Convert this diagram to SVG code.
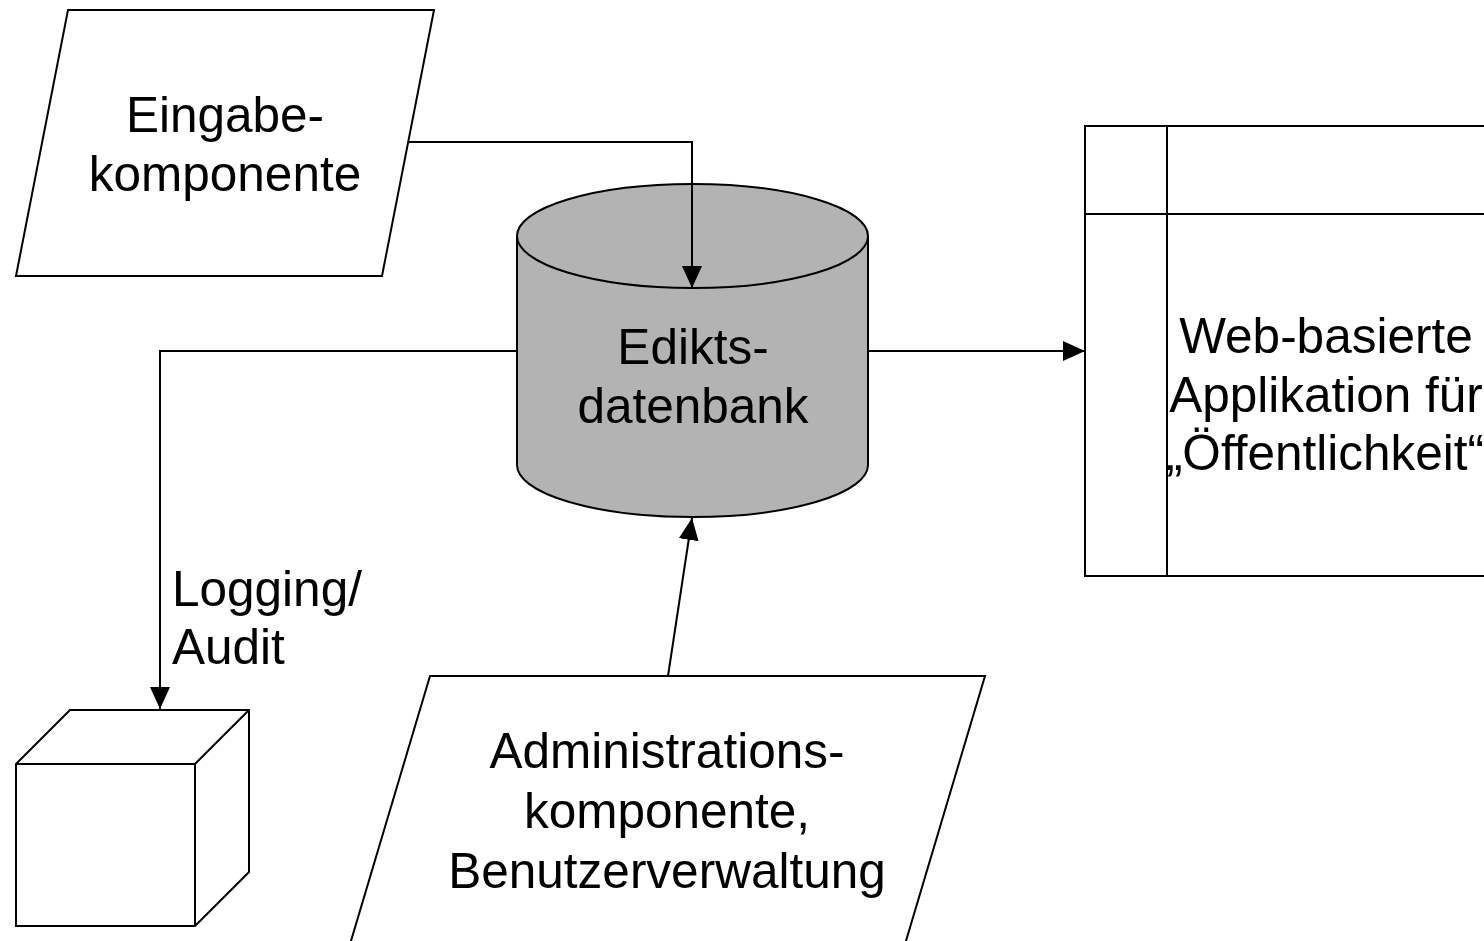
<svg xmlns="http://www.w3.org/2000/svg" width="1484" height="941" viewBox="0 0 1484 941">
<style>
.s{fill:#fff;stroke:#000;stroke-width:2;stroke-linejoin:miter}
.c{fill:none;stroke:#000;stroke-width:2}
.t{font-family:"Liberation Sans",Arial,sans-serif;font-size:49.5px;fill:#000}
.m{text-anchor:middle}
</style>
<defs>
<marker id="ah" viewBox="0 0 22 20" refX="22" refY="10" markerWidth="22" markerHeight="20" markerUnits="userSpaceOnUse" orient="auto">
<path d="M0,0 L22,10 L0,20 Z" fill="#000"/>
</marker>
</defs>
<rect width="1484" height="941" fill="#fff"/>
<g id="eingabe">
<path class="s" d="M68,10 H434 L382,276 H16 Z"/>
<text class="t m" x="225" y="132">Eingabe-</text>
<text class="t m" x="225" y="191">komponente</text>
</g>
<g id="ediktsdatenbank">
<path d="M517,236 V465 A175.5,52 0 0 0 868,465 V236 Z" fill="#b3b3b3" stroke="#000" stroke-width="2"/>
<ellipse cx="692.5" cy="236" rx="175.5" ry="52" fill="#b3b3b3" stroke="#000" stroke-width="2"/>
<text class="t m" x="693" y="364">Edikts-</text>
<text class="t m" x="693" y="423">datenbank</text>
</g>
<g id="webapp">
<rect class="s" x="1085" y="126" width="420" height="450"/>
<line class="c" x1="1167" y1="126" x2="1167" y2="576"/>
<line class="c" x1="1085" y1="214" x2="1505" y2="214"/>
<text class="t m" x="1326" y="353">Web-basierte</text>
<text class="t m" x="1326" y="412">Applikation für</text>
<text class="t m" x="1325" y="470">„Öffentlichkeit“</text>
</g>
<g id="logging">
<text class="t" x="172" y="606">Logging/</text>
<text class="t" x="172" y="664">Audit</text>
</g>
<g id="cube">
<path class="s" d="M16,764 L70,710 H249 V872 L195,926 H16 Z"/>
<path class="c" d="M16,764 H195 V926 M195,764 L249,710"/>
</g>
<g id="administration">
<path class="s" d="M430,676 H985 L900,961 H345 Z"/>
<text class="t m" x="667" y="768">Administrations-</text>
<text class="t m" x="667" y="828">komponente,</text>
<text class="t m" x="667" y="888">Benutzerverwaltung</text>
</g>
<g id="connectors">
<path class="c" d="M408,142 H692 V288" marker-end="url(#ah)"/>
<path class="c" d="M517,351 H160 V709" marker-end="url(#ah)"/>
<path class="c" d="M868,351 H1085" marker-end="url(#ah)"/>
<path class="c" d="M668,676 L692,518" marker-end="url(#ah)"/>
</g>
</svg>
